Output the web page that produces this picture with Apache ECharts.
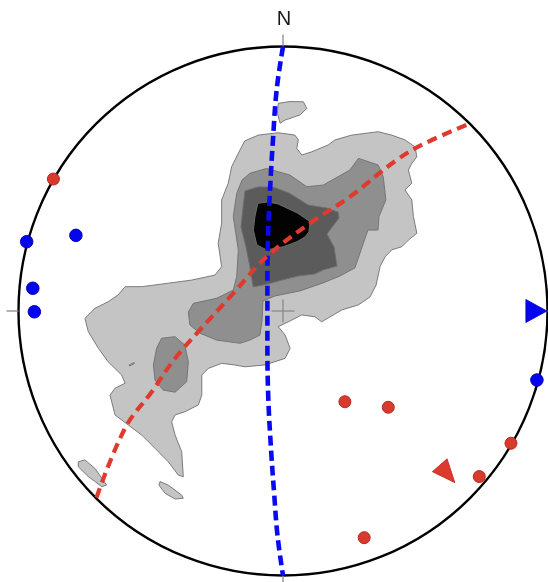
<!DOCTYPE html>
<html>
<head>
<meta charset="utf-8">
<script src="https://cdn.jsdelivr.net/npm/echarts@6/dist/echarts.min.js"></script>
<style>
  html, body { margin: 0; padding: 0; background: #fff; }
  #chart { width: 548px; height: 582px; }
</style>
</head>
<body>
<div id="chart"></div>
<script>
// Lower-hemisphere projection, primitive circle of radius 100 (x = east, y = north).

// Density contours, lowest to highest level (closed outlines).
const contourLevel1 = [
  [[-14.5,64.3],[-9.3,66.5],[-1.8,67.4],[4.5,66.5],[5.8,64.7],[5.2,61.5],[7.1,59.0],[10.9,60.2],
   [17.1,62.8],[19.7,64.7],[26.0,66.5],[36.0,67.8],[41.1,66.5],[46.1,64.7],[49.9,62.1],[50.6,58.3],
   [48.7,55.8],[47.4,53.3],[48.7,48.3],[46.1,45.8],[48.7,42.0],[49.3,35.7],[50.6,29.4],[47.4,26.8],
   [44.9,24.3],[41.1,23.1],[38.6,20.5],[36.7,16.8],[35.2,9.8],[32.9,5.3],[28.5,2.3],[22.2,0.4],
   [14.6,-4.1],[12.1,-2.2],[7.1,-1.5],[2.0,-4.1],[-1.8,-5.9],[0.8,-9.1],[2.7,-14.1],[0.8,-17.9],
   [-6.8,-20.4],[-14.4,-21.1],[-18.2,-20.4],[-23.2,-19.8],[-28.2,-21.7],[-30.7,-24.2],[-30.7,-31.8],
   [-32.0,-35.5],[-37.1,-38.1],[-40.8,-39.3],[-42.1,-41.9],[-40.8,-46.9],[-38.3,-53.2],[-37.7,-62.7],
   [-39.6,-62.0],[-43.4,-57.0],[-48.4,-51.9],[-53.4,-46.9],[-58.5,-43.1],[-63.5,-39.3],[-65.4,-31.8],
   [-63.5,-29.2],[-59.7,-27.3],[-61.0,-24.2],[-66.1,-19.2],[-69.8,-14.1],[-73.6,-7.8],[-74.9,-2.8],
   [-71.1,1.0],[-66.1,3.5],[-62.3,6.1],[-59.7,9.2],[-53.4,9.2],[-43.4,10.5],[-34.5,11.7],[-25.7,13.6],
   [-23.2,16.8],[-24.5,25.6],[-23.2,33.2],[-23.2,42.0],[-20.7,48.3],[-19.4,54.6],[-16.9,59.6]],
  [[-1.8,78.5],[2.6,79.2],[7.7,79.1],[9.0,76.6],[6.4,74.1],[0.8,72.2],[-1.1,71.0],[-2.1,74.7]],
  [[-77.4,-57.0],[-74.9,-56.3],[-71.1,-59.5],[-66.7,-65.8],[-68.5,-66.4],[-73.6,-62.6],[-77.4,-58.9]],
  [[-46.5,-64.5],[-43.4,-65.8],[-38.3,-69.6],[-37.7,-70.8],[-40.8,-71.1],[-44.6,-68.9],[-46.9,-65.8]],
  [[-58.2,-20.4],[-56.3,-19.5],[-56.1,-19.8],[-58.0,-20.8]]
];
const contourLevel2 = [
  [[-12.5,52.1],[-6.2,53.9],[2.6,51.4],[9.0,47.0],[15.2,47.6],[25.3,53.3],[28.5,57.7],[30.4,57.1],
   [36.0,55.2],[37.9,50.8],[38.9,42.0],[36.3,35.7],[35.9,30.6],[32.1,30.6],[29.9,24.2],[27.2,16.3],
   [21.5,13.2],[15.1,10.6],[6.4,7.6],[-3.0,5.7],[-7.6,3.8],[-7.9,-3.4],[-8.7,-9.1],[-12.5,-11.0],
   [-16.3,-12.2],[-25.1,-11.0],[-31.4,-8.4],[-35.2,-5.3],[-35.8,-0.4],[-33.9,2.9],[-25.1,4.8],
   [-18.8,7.9],[-17.5,13.0],[-16.9,23.1],[-18.8,35.7],[-17.5,44.5],[-15.5,49.5]],
  [[-45.9,-10.3],[-40.8,-9.7],[-37.1,-12.9],[-35.8,-19.2],[-36.4,-26.7],[-40.8,-30.7],[-45.3,-29.9],
   [-48.4,-26.1],[-49.0,-20.4],[-47.8,-14.1]]
];
const contourLevel3 = [
  [[-14.4,45.4],[-9.5,46.9],[-3.8,46.9],[2.3,44.6],[9.5,40.1],[16.6,38.9],[20.8,37.4],[21.2,35.2],
   [16.6,29.1],[19.3,24.2],[20.4,17.0],[15.1,15.5],[12.1,14.0],[5.7,13.2],[-0.4,11.7],[-5.7,10.2],
   [-11.3,9.1],[-12.5,16.6],[-14.0,24.2],[-15.9,31.8],[-15.1,39.3]]
];
const contourLevel4 = [
  [[-9.5,40.7],[-5.7,41.2],[-1.9,40.5],[5.3,37.1],[10.2,33.8],[9.8,29.9],[8.3,28.0],[5.3,26.2],
   [0.1,24.3],[-6.2,23.1],[-9.9,25.0],[-11.2,30.6],[-10.6,35.7]]
];

// Great circles (traced along their projected paths).
const greatCircleBlue = [[0.0,100.0],[-2.4,83.6],[-3.8,64.6],[-4.9,45.7],[-5.7,26.8],[-5.9,7.9],
  [-5.9,-11.0],[-5.6,-31.8],[-4.5,-52.6],[-3.3,-69.6],[-2.1,-84.7],[0.0,-100.0]];
const greatCircleRed = [[-70.5,-70.5],[-59.7,-44.3],[-49.6,-30.5],[-40.8,-17.9],[-32.0,-7.8],
  [-19.4,6.0],[-6.2,20.5],[10.2,33.2],[25.3,43.2],[43.0,57.1],[53.7,63.4],[70.7,70.9]];

// Poles (circles) and lineations (triangles).
const redPoles = [[-86.8,49.9],[23.4,-34.3],[39.8,-36.4],[86.2,-50.0],[74.2,-62.6],[30.7,-85.7]];
const bluePoles = [[-96.9,26.2],[-78.3,28.6],[-94.6,8.6],[-94.0,-0.3],[96.0,-26.1]];
const redLineation = [[62.1,-61.6]];
const blueLineation = [[95.8,0.0]];

const northLabel = 'N';

const R = 100;
const chart = echarts.init(document.getElementById('chart'), null, { renderer: 'canvas' });

function contourSeries(polys, fill, z) {
  return {
    type: 'custom',
    coordinateSystem: 'cartesian2d',
    clip: false,
    z: z,
    silent: true,
    data: polys.map(function (p, i) { return [p[0][0], p[0][1], i]; }),
    renderItem: function (params, api) {
      const poly = polys[params.dataIndex];
      return {
        type: 'polygon',
        shape: { points: poly.map(function (pt) { return api.coord(pt); }) },
        style: { fill: fill, stroke: '#6f6f6f', lineWidth: 0.9 }
      };
    }
  };
}

const option = {
  animation: false,
  backgroundColor: '#ffffff',
  grid: { left: 18.5, top: 46.5, width: 529, height: 529 },
  xAxis: { type: 'value', min: -R, max: R, show: false },
  yAxis: { type: 'value', min: -R, max: R, show: false },
  series: [
    contourSeries(contourLevel1, '#c4c4c4', 1),
    contourSeries(contourLevel2, '#8f8f8f', 2),
    contourSeries(contourLevel3, '#5b5b5b', 3),
    contourSeries(contourLevel4, '#030303', 4),
    {
      // primitive circle, cardinal ticks, centre cross and north label
      type: 'custom',
      coordinateSystem: 'cartesian2d',
      clip: false,
      z: 5,
      silent: true,
      data: [[0, 0]],
      renderItem: function (params, api) {
        const c = api.coord([0, 0]);
        const r = api.size([R, 0])[0];
        const tick = 12;
        const cross = 11.5;
        const gray = { stroke: '#8a8a8a', lineWidth: 1.3 };
        const top = api.coord([0, R]);
        return {
          type: 'group',
          children: [
            { type: 'circle', shape: { cx: c[0], cy: c[1], r: r },
              style: { fill: null, stroke: '#000', lineWidth: 2.4 } },
            { type: 'line', shape: { x1: c[0], y1: c[1] - r, x2: c[0], y2: c[1] - r - tick }, style: gray },
            { type: 'line', shape: { x1: c[0], y1: c[1] + r, x2: c[0], y2: c[1] + r + tick }, style: gray },
            { type: 'line', shape: { x1: c[0] - r, y1: c[1], x2: c[0] - r - tick, y2: c[1] }, style: gray },
            { type: 'line', shape: { x1: c[0] + r, y1: c[1], x2: c[0] + r + tick, y2: c[1] }, style: gray },
            { type: 'line', shape: { x1: c[0] - cross, y1: c[1], x2: c[0] + cross, y2: c[1] }, style: gray },
            { type: 'line', shape: { x1: c[0], y1: c[1] - cross, x2: c[0], y2: c[1] + cross }, style: gray },
            { type: 'text', x: top[0] + 1, y: top[1] - 27,
              style: { text: northLabel, fill: '#1a1a1a', font: '20px "Liberation Sans", Arial, sans-serif',
                       align: 'center', verticalAlign: 'middle' } }
          ]
        };
      }
    },
    {
      type: 'line',
      data: greatCircleBlue,
      smooth: 0.4,
      showSymbol: false,
      clip: false,
      z: 6,
      silent: true,
      lineStyle: { color: '#0a0af2', width: 4.6, type: [10, 5], cap: 'butt' }
    },
    {
      type: 'line',
      data: greatCircleRed,
      smooth: 0.4,
      showSymbol: false,
      clip: false,
      z: 6,
      silent: true,
      lineStyle: { color: '#e03a2e', width: 4.2, type: [10, 6], cap: 'butt' }
    },
    {
      type: 'scatter',
      data: redPoles,
      symbol: 'circle',
      symbolSize: 12,
      clip: false,
      z: 7,
      itemStyle: { color: '#d93a2e', borderColor: '#b8281f', borderWidth: 1, opacity: 1 }
    },
    {
      type: 'scatter',
      data: bluePoles,
      symbol: 'circle',
      symbolSize: 12.5,
      clip: false,
      z: 7,
      itemStyle: { color: '#0606ee', borderColor: '#0000b0', borderWidth: 1, opacity: 1 }
    },
    {
      type: 'scatter',
      data: redLineation,
      symbol: 'triangle',
      symbolSize: [19.5, 23],
      symbolRotate: -139,
      clip: false,
      z: 7,
      itemStyle: { color: '#dc3a2e', borderColor: '#c02c22', borderWidth: 0.8, opacity: 1 }
    },
    {
      type: 'scatter',
      data: blueLineation,
      symbol: 'triangle',
      symbolSize: [23, 21],
      symbolRotate: -90,
      clip: false,
      z: 7,
      itemStyle: { color: '#0606ee', borderColor: '#0000c0', borderWidth: 0.8, opacity: 1 }
    }
  ]
};

chart.setOption(option);
</script>
</body>
</html>
